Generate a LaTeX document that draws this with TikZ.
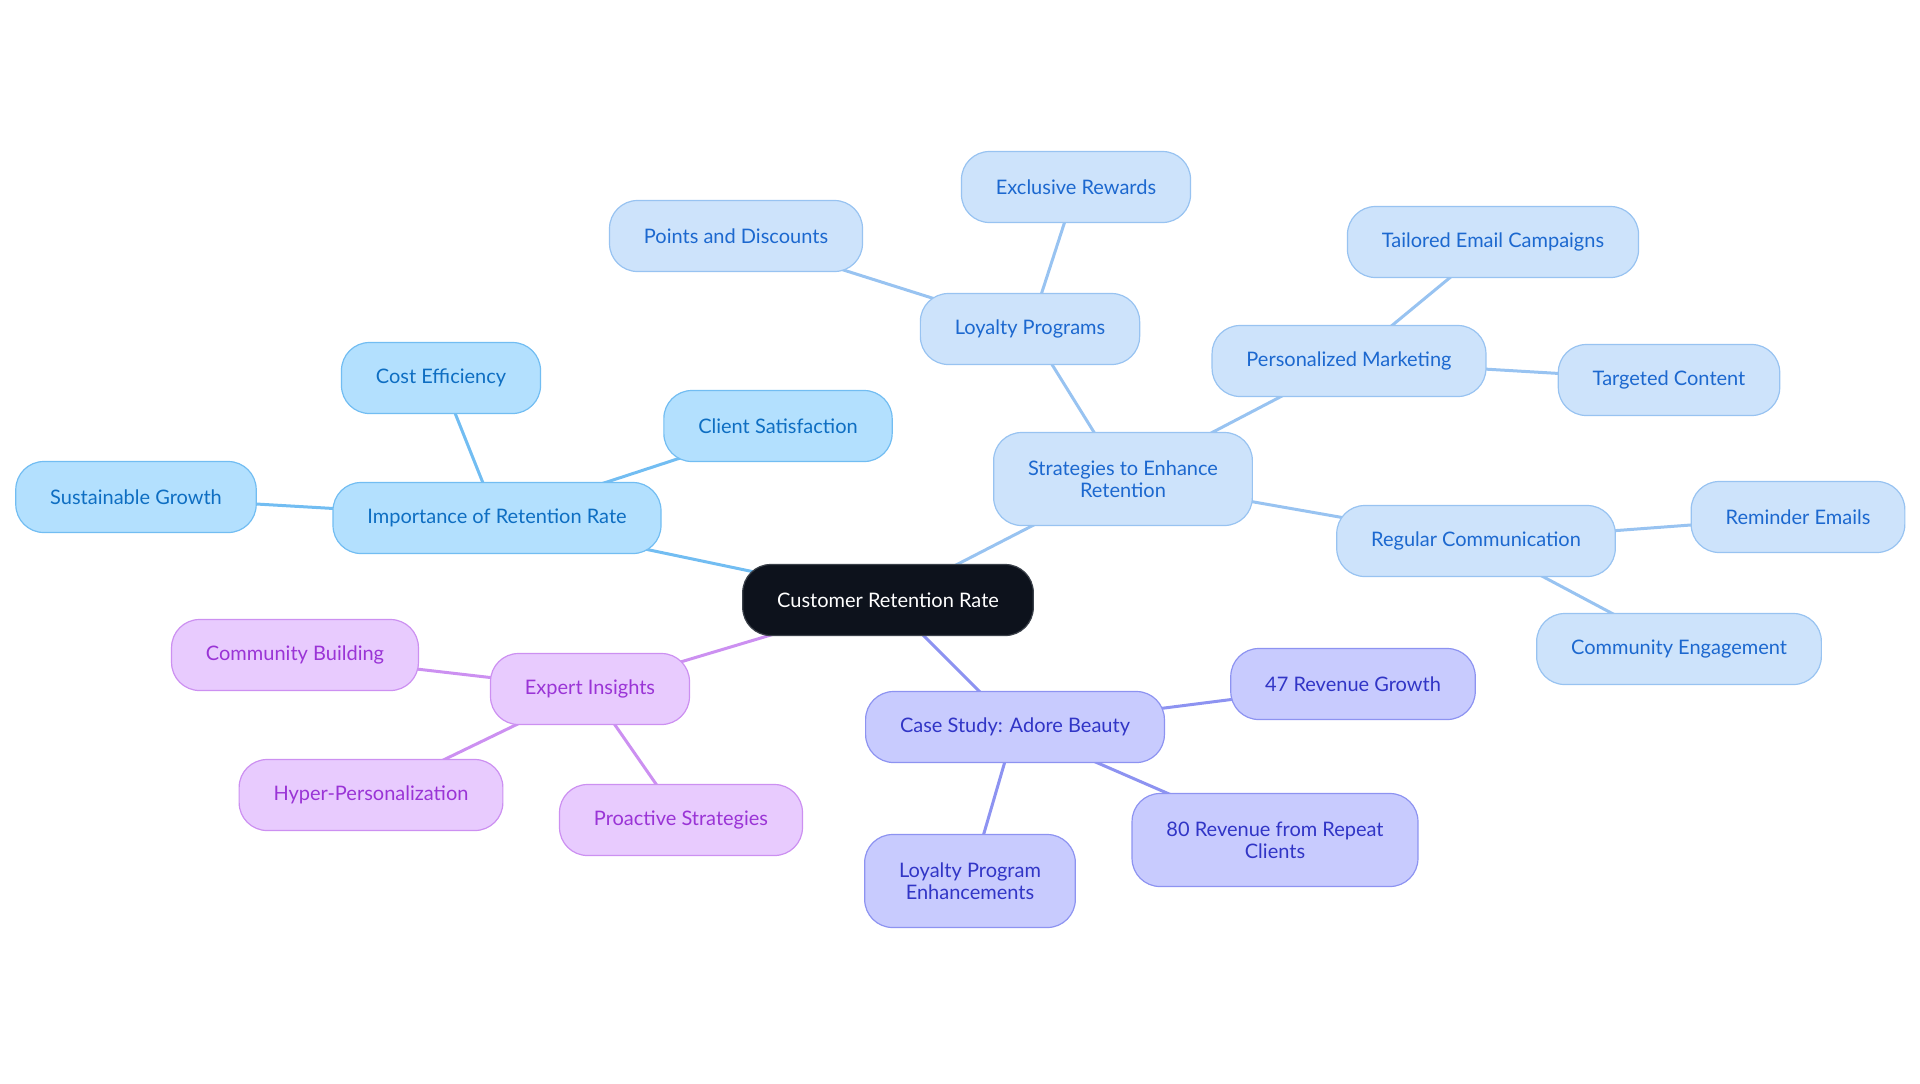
\documentclass[tikz,border=0pt]{standalone}
\usepackage{fontspec}
\setmainfont{Lato}
\usetikzlibrary{backgrounds}

\definecolor{rootfill}{HTML}{0D121C}
\definecolor{rootdraw}{HTML}{3A4049}
\definecolor{impfill}{HTML}{B3E0FE}
\definecolor{impdraw}{HTML}{72BDF2}
\definecolor{imptext}{HTML}{0E6EC2}
\definecolor{stratfill}{HTML}{CDE3FB}
\definecolor{stratdraw}{HTML}{98C3F1}
\definecolor{strattext}{HTML}{1C68CF}
\definecolor{expfill}{HTML}{E8CBFE}
\definecolor{expdraw}{HTML}{CC90F1}
\definecolor{exptext}{HTML}{9A34D6}
\definecolor{casefill}{HTML}{C8CBFE}
\definecolor{casedraw}{HTML}{8D93F1}
\definecolor{casetext}{HTML}{3135C6}

\tikzset{
	mind/.style={rounded corners=14pt, minimum height=35.5pt, inner xsep=17.2pt,
		align=center, font=\fontsize{10}{11}\selectfont, line width=0.6pt},
	twoline/.style={minimum height=46.5pt},
	rootbox/.style={mind, fill=rootfill, draw=rootdraw, text=white},
	impbox/.style={mind, fill=impfill, draw=impdraw, text=imptext},
	stratbox/.style={mind, fill=stratfill, draw=stratdraw, text=strattext},
	expbox/.style={mind, fill=expfill, draw=expdraw, text=exptext},
	casebox/.style={mind, fill=casefill, draw=casedraw, text=casetext},
	branch/.style={line width=1.5pt},
}

\begin{document}
\begin{tikzpicture}[x=0.5pt, y=-0.5pt]
\useasboundingbox (0,0) rectangle (1920,1083);

% centre
\node[rootbox] (root) at (888,600) {Customer Retention Rate};

% importance
\node[impbox] (imp) at (497,518) {Importance of Retention Rate};
\node[impbox] (sust) at (136,497) {Sustainable Growth};
\node[impbox] (cost) at (441,378) {Cost Efficiency};
\node[impbox] (client) at (778,426) {Client Satisfaction};

% strategies
\node[stratbox, twoline] (strat) at (1123,479) {Strategies to Enhance\\Retention};
\node[stratbox] (loyal) at (1030,329) {Loyalty Programs};
\node[stratbox] (points) at (736,236) {Points and Discounts};
\node[stratbox] (excl) at (1076,187) {Exclusive Rewards};
\node[stratbox] (pers) at (1349,361) {Personalized Marketing};
\node[stratbox] (tailored) at (1493,242) {Tailored Email Campaigns};
\node[stratbox] (targeted) at (1669,380) {Targeted Content};
\node[stratbox] (regular) at (1476,541) {Regular Communication};
\node[stratbox] (reminder) at (1798,517) {Reminder Emails};
\node[stratbox] (commeng) at (1679,649) {Community Engagement};

% expert insights
\node[expbox] (expert) at (590,689) {Expert Insights};
\node[expbox] (combuild) at (295,655) {Community Building};
\node[expbox] (hyper) at (371,795) {Hyper-Personalization};
\node[expbox] (proactive) at (681,820) {Proactive Strategies};

% case study
\node[casebox] (case) at (1015,727) {Case Study: Adore Beauty};
\node[casebox] (rev47) at (1353,684) {47 Revenue Growth};
\node[casebox, twoline] (rev80) at (1275,840) {80 Revenue from Repeat\\Clients};
\node[casebox, twoline] (lpe) at (970,881) {Loyalty Program\\Enhancements};

\begin{scope}[on background layer]
\foreach \a/\b in {root/imp, imp/sust, imp/cost, imp/client}
	\draw[branch, impdraw] (\a.center) -- (\b.center);
\foreach \a/\b in {root/strat, strat/loyal, loyal/points, loyal/excl, strat/pers,
		pers/tailored, pers/targeted, strat/regular, regular/reminder, regular/commeng}
	\draw[branch, stratdraw] (\a.center) -- (\b.center);
\foreach \a/\b in {root/expert, expert/combuild, expert/hyper, expert/proactive}
	\draw[branch, expdraw] (\a.center) -- (\b.center);
\foreach \a/\b in {root/case, case/rev47, case/rev80, case/lpe}
	\draw[branch, casedraw] (\a.center) -- (\b.center);
\end{scope}

\end{tikzpicture}
\end{document}
